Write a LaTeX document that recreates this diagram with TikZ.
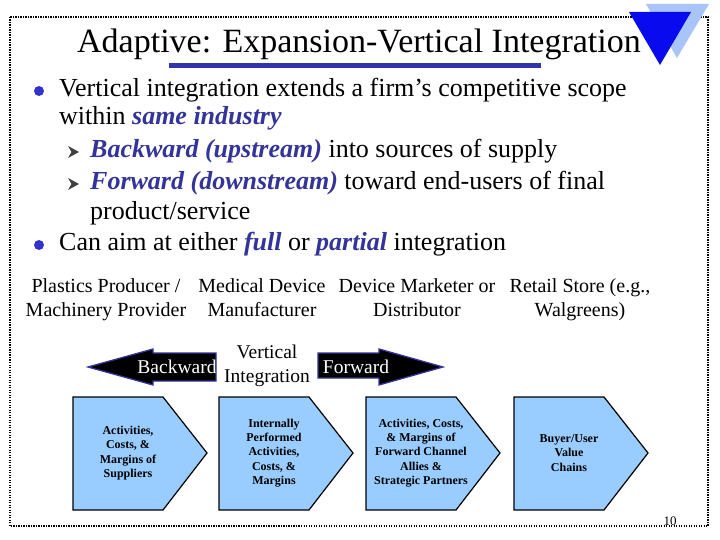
\documentclass[tikz,border=0pt]{standalone}
\usepackage{fontspec}
\setmainfont{Liberation Serif}
\definecolor{navytext}{HTML}{333399}
\definecolor{bulletblue}{HTML}{3333CC}
\definecolor{barblue}{HTML}{3333AA}
\definecolor{tridark}{HTML}{0A0AEE}
\definecolor{trilight}{HTML}{A8C4F8}
\definecolor{boxfill}{HTML}{99CCFF}
\newcommand\emb[1]{\textcolor{navytext}{\textbf{\textit{#1}}}}
\tikzset{
  bodytext/.style={anchor=base west, inner sep=0pt, font=\fontsize{26}{30}\selectfont},
  label/.style={anchor=base, inner sep=0pt, font=\fontsize{20}{24}\selectfont},
  boxtext/.style={align=center, inner sep=0pt, font=\fontsize{12}{14.3}\selectfont\bfseries},
  chevron/.style={fill=boxfill, draw=black, line width=1.2pt, line join=miter},
  bigarrow/.style={fill=black, draw=navytext, line width=1.3pt, line join=miter},
  arrowtext/.style={anchor=base, inner sep=0pt, text=white, font=\fontsize{19.5}{23}\selectfont},
}
\begin{document}
\begin{tikzpicture}[x=1pt,y=-1pt]
\useasboundingbox (0,0) rectangle (720,540);
% frame
\draw[line width=2.2pt, dash pattern=on 1.3pt off 1.2pt] (10,17) rectangle (708,526);
% triangles
\fill[trilight] (646,4) -- (709,4) -- (677,58) -- cycle;
\fill[tridark] (629,12) -- (691,12) -- (660,65) -- cycle;
% title
\node[anchor=base, inner sep=0pt, font=\fontsize{34}{38}\selectfont] (title) at (359,53) {Adaptive: Expansion-Vertical Integration};
\fill[barblue] (169,63) rectangle (541,68);
% bullets
\fill[bulletblue] (39,91) circle (5);
\fill[bulletblue] (39,245) circle (5);
\node[bodytext] (l1) at (59,97) {Vertical integration extends a firm’s competitive scope};
\node[bodytext] (l2) at (59,125) {within \emb{same industry}};
\fill[black!75] (68,146) -- (79,152) -- (68,158) -- (71.5,152) -- cycle;
\node[bodytext] (l3) at (90,158) {\emb{Backward (upstream)} into sources of supply};
\fill[black!75] (68,178) -- (79,184) -- (68,190) -- (71.5,184) -- cycle;
\node[bodytext] (l4) at (90,190) {\emb{Forward (downstream)} toward end-users of final};
\node[bodytext] (l5) at (90,219) {product/service};
\node[bodytext] (l6) at (59,251) {Can aim at either \emb{full} or \emb{partial} integration};
% stage labels
\node[label] (p1a) at (106,292) {Plastics Producer /};
\node[label] (p1b) at (106,316) {Machinery Provider};
\node[label] (p2a) at (262,292) {Medical Device};
\node[label] (p2b) at (262,316) {Manufacturer};
\node[label] (p3a) at (417,292) {Device Marketer or};
\node[label] (p3b) at (417,316) {Distributor};
\node[label] (p4a) at (580,292) {Retail Store (e.g.,};
\node[label] (p4b) at (580,316) {Walgreens)};
% arrows
\draw[bigarrow] (88,367) -- (153,349) -- (153,353) -- (216,353) -- (216,381) -- (153,381) -- (153,385) -- cycle;
\node[arrowtext] (bw) at (177,373) {Backward};
\draw[bigarrow] (443,367) -- (379,349) -- (379,353) -- (318,353) -- (318,378) -- (379,378) -- (379,385) -- cycle;
\node[arrowtext] (fw) at (356,373) {Forward};
\node[label, font=\fontsize{19.5}{23}\selectfont] (vi1) at (267,358) {Vertical};
\node[label, font=\fontsize{19.5}{23}\selectfont] (vi2) at (267,382) {Integration};
% chevrons
\foreach \x/\n in {73/c1,219/c2,366/c3,514/c4}{
  \draw[chevron] (\x,397) -- ++(90,0) -- ++(44,56) -- ++(-44,57) -- ++(-90,0) -- cycle;
  \coordinate (\n) at (\x+55,453);
}
\node[boxtext] (t1) at (c1) {Activities,\\Costs, \&\\Margins of\\Suppliers};
\node[boxtext] (t2) at (c2) {Internally\\Performed\\Activities,\\Costs, \&\\Margins};
\node[boxtext] (t3) at (c3) {Activities, Costs,\\\& Margins of\\Forward Channel\\Allies \&\\Strategic Partners};
\node[boxtext] (t4) at (c4) {Buyer/User\\Value\\Chains};
% page number
\node[anchor=base, inner sep=0pt, font=\fontsize{13}{15}\selectfont] (pg) at (670,525) {10};
\end{tikzpicture}
\end{document}
